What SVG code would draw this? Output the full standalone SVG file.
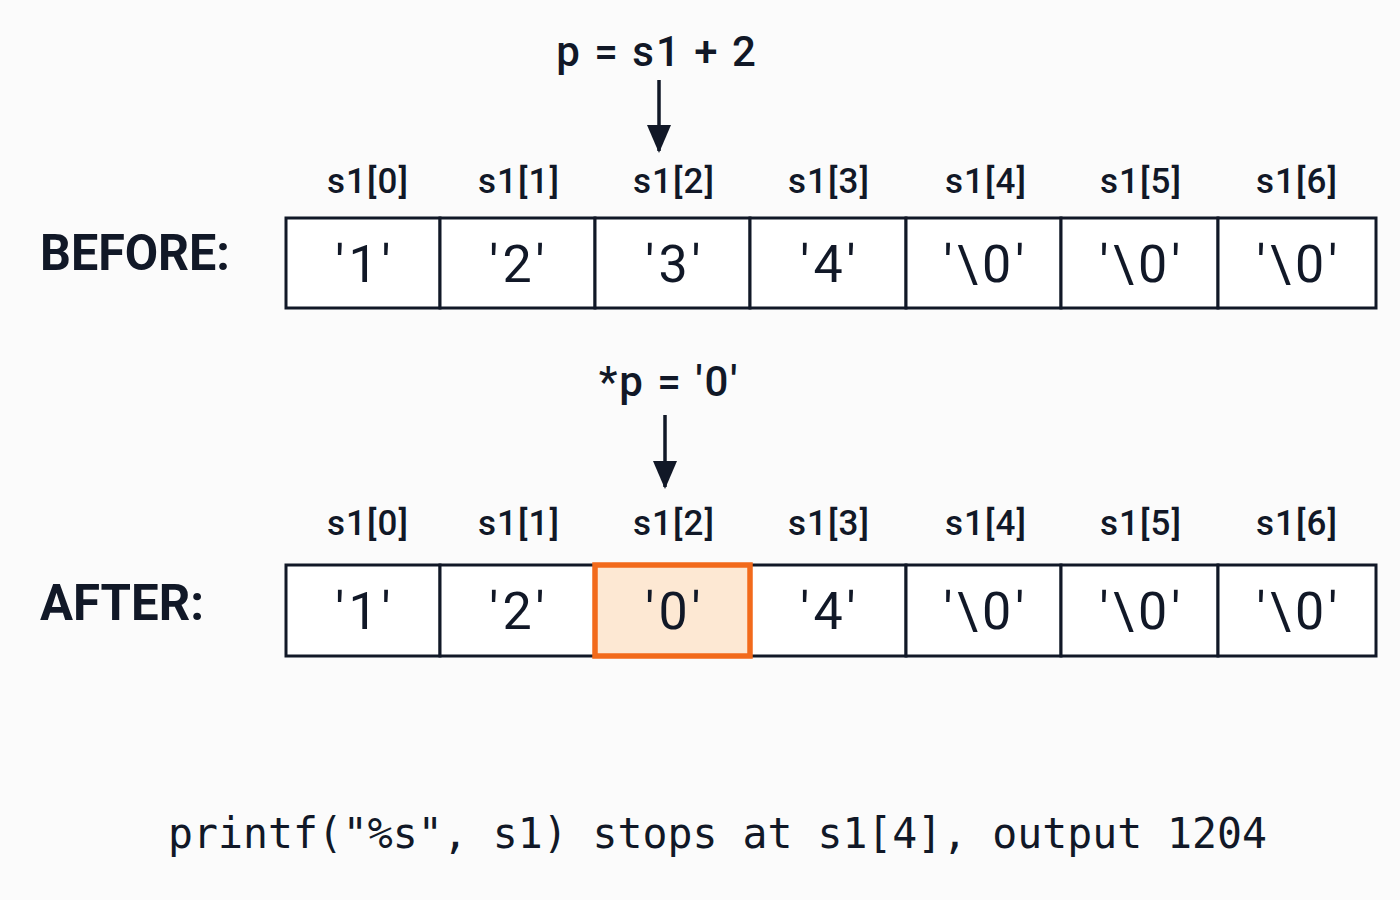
<svg xmlns="http://www.w3.org/2000/svg" width="1400" height="900" viewBox="0 0 1400 900">
<style>
.bg{fill:#fbfbfb}
.cell{fill:#ffffff;stroke:#111827;stroke-width:3}
.hl{fill:#fde8d3;stroke:#f26a1b;stroke-width:5.5}
.idx{font-family:Roboto,"Noto Sans",sans-serif;font-size:35px;font-weight:500;fill:#111827;text-anchor:middle;letter-spacing:1px}
.val{font-family:Roboto,"Noto Sans",sans-serif;font-size:52px;font-weight:400;fill:#111827;text-anchor:middle;letter-spacing:4px}
.row{font-family:Roboto,"Noto Sans",sans-serif;font-size:50px;font-weight:700;fill:#111827}
.op{font-family:Roboto,"Noto Sans",sans-serif;font-size:42px;font-weight:500;fill:#111827;text-anchor:middle;letter-spacing:2px}
.code{font-family:"DejaVu Sans Mono","Liberation Mono",monospace;font-size:42px;fill:#111827}
.conn{stroke:#111827;stroke-width:3.5;fill:none}
</style>
<defs>
<marker id="ah" viewBox="0 0 28 24" refX="26" refY="12" markerWidth="28" markerHeight="24" markerUnits="userSpaceOnUse" orient="auto">
<path d="M0,0 L28,12 L0,24 z" fill="#111827"/>
</marker>
</defs>
<rect class="bg" x="0" y="0" width="1400" height="900"/>

<g id="before-label"><text class="row" x="40" y="270" textLength="190" lengthAdjust="spacingAndGlyphs">BEFORE:</text></g>
<g id="after-label"><text class="row" x="40" y="620" textLength="164" lengthAdjust="spacingAndGlyphs">AFTER:</text></g>

<g id="op-before"><text class="op" x="657" y="66">p = s1 + 2</text></g>
<g id="op-after"><text class="op" x="669" y="396">*p = '0'</text></g>

<g id="before-indices">
<text class="idx" x="368" y="193">s1[0]</text>
<text class="idx" x="519" y="193">s1[1]</text>
<text class="idx" x="674" y="193">s1[2]</text>
<text class="idx" x="829" y="193">s1[3]</text>
<text class="idx" x="986" y="193">s1[4]</text>
<text class="idx" x="1141" y="193">s1[5]</text>
<text class="idx" x="1297" y="193">s1[6]</text>
</g>
<g id="before-cells">
<g id="b0"><rect class="cell" x="286" y="218" width="154" height="90"/><text class="val" x="365" y="282">'1'</text></g>
<g id="b1"><rect class="cell" x="440" y="218" width="155" height="90"/><text class="val" x="519" y="282">'2'</text></g>
<g id="b2"><rect class="cell" x="595" y="218" width="155" height="90"/><text class="val" x="675" y="282">'3'</text></g>
<g id="b3"><rect class="cell" x="750" y="218" width="156" height="90"/><text class="val" x="830" y="282">'4'</text></g>
<g id="b4"><rect class="cell" x="906" y="218" width="155" height="90"/><text class="val" x="986" y="282">'\0'</text></g>
<g id="b5"><rect class="cell" x="1061" y="218" width="157" height="90"/><text class="val" x="1142" y="282">'\0'</text></g>
<g id="b6"><rect class="cell" x="1218" y="218" width="158" height="90"/><text class="val" x="1299" y="282">'\0'</text></g>
</g>

<g id="after-indices">
<text class="idx" x="368" y="535">s1[0]</text>
<text class="idx" x="519" y="535">s1[1]</text>
<text class="idx" x="674" y="535">s1[2]</text>
<text class="idx" x="829" y="535">s1[3]</text>
<text class="idx" x="986" y="535">s1[4]</text>
<text class="idx" x="1141" y="535">s1[5]</text>
<text class="idx" x="1297" y="535">s1[6]</text>
</g>
<g id="after-cells">
<g id="a0"><rect class="cell" x="286" y="565" width="154" height="91"/><text class="val" x="365" y="629">'1'</text></g>
<g id="a1"><rect class="cell" x="440" y="565" width="155" height="91"/><text class="val" x="519" y="629">'2'</text></g>
<g id="a3"><rect class="cell" x="750" y="565" width="156" height="91"/><text class="val" x="830" y="629">'4'</text></g>
<g id="a4"><rect class="cell" x="906" y="565" width="155" height="91"/><text class="val" x="986" y="629">'\0'</text></g>
<g id="a5"><rect class="cell" x="1061" y="565" width="157" height="91"/><text class="val" x="1142" y="629">'\0'</text></g>
<g id="a6"><rect class="cell" x="1218" y="565" width="158" height="91"/><text class="val" x="1299" y="629">'\0'</text></g>
<g id="a2"><rect class="hl" x="595" y="565" width="155" height="91"/><text class="val" x="675" y="629">'0'</text></g>
</g>

<g id="connectors">
<line class="conn" x1="659" y1="80" x2="659" y2="151" marker-end="url(#ah)"/>
<line class="conn" x1="665" y1="415" x2="665" y2="487" marker-end="url(#ah)"/>
</g>

<g id="caption"><text class="code" x="168" y="848" textLength="1099" lengthAdjust="spacingAndGlyphs">printf("%s", s1) stops at s1[4], output 1204</text></g>
</svg>
